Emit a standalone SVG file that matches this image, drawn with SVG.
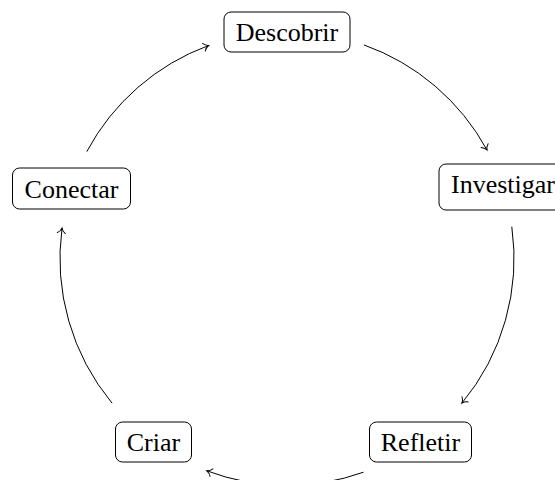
<svg xmlns="http://www.w3.org/2000/svg" width="555" height="480" viewBox="0 0 555 480">
<style>
.box{fill:#fff;stroke:#000;stroke-width:1}
.lbl{font-family:"Liberation Serif","Times New Roman",serif;font-size:26px;fill:#000;text-anchor:middle}
.arc{fill:none;stroke:#000;stroke-width:1}
</style>
<defs>
<marker id="to" markerUnits="userSpaceOnUse" markerWidth="12" markerHeight="12" viewBox="-8 -6 10 12" refX="0" refY="0" orient="auto" overflow="visible">
<path d="M -5 -4 C -3.5 -1.5 -1.5 -0.5 0 0 C -1.5 0.5 -3.5 1.5 -5 4" fill="none" stroke="#000" stroke-width="1" stroke-linecap="round"/>
</marker>
</defs>
<rect width="555" height="480" fill="#fff"/>
<g id="connectors">
<path class="arc" marker-end="url(#to)" d="M 363.9 44.9 A 227 227 0 0 1 487 150"/>
<path class="arc" marker-end="url(#to)" d="M 511.8 226.7 A 227 227 0 0 1 461.9 403.2"/>
<path class="arc" marker-end="url(#to)" d="M 363.5 472.2 A 227 227 0 0 1 206.8 470.8"/>
<path class="arc" marker-end="url(#to)" d="M 112.1 403.2 A 227 227 0 0 1 62 228.1"/>
<path class="arc" marker-end="url(#to)" d="M 86.8 151.6 A 227 227 0 0 1 208.6 45.5"/>
</g>
<g id="descobrir">
<rect class="box" x="224" y="12" width="126" height="40" rx="7"/>
<text class="lbl" x="287" y="41">Descobrir</text>
</g>
<g id="investigar">
<rect class="box" x="439" y="164" width="128" height="46" rx="7"/>
<text class="lbl" x="503" y="193">Investigar</text>
</g>
<g id="refletir">
<rect class="box" x="369.5" y="422" width="102" height="40" rx="7"/>
<text class="lbl" x="420.5" y="451">Refletir</text>
</g>
<g id="criar">
<rect class="box" x="115.5" y="422" width="76" height="40" rx="7"/>
<text class="lbl" x="153.5" y="451">Criar</text>
</g>
<g id="conectar">
<rect class="box" x="12.5" y="168" width="118" height="41" rx="7"/>
<text class="lbl" x="71.5" y="197.5">Conectar</text>
</g>
</svg>
